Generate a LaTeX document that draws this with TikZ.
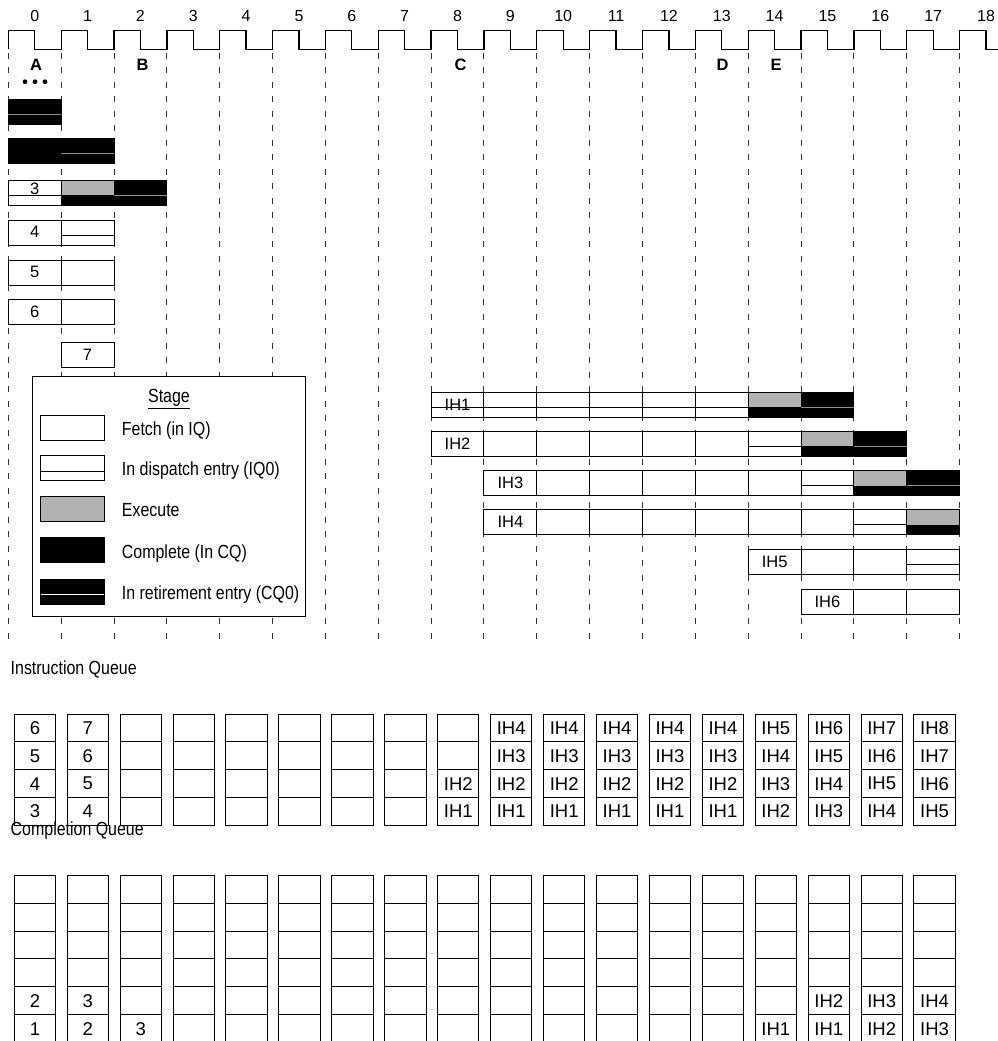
\documentclass[tikz,border=0pt]{standalone}
\usepackage{fontspec}
\setmainfont{Liberation Sans}
\newfontfamily\narrowfont{Liberation Sans}[FakeStretch=0.84]
\newcommand\kx[1]{8.3+52.85*(#1)}
\newcommand\cellF[2]{\draw[cellbox] ({\kx{#1}},#2) rectangle ({\kx{#1+1}},{#2+25});}
\newcommand\cellD[2]{\cellF{#1}{#2}\draw[cellbox] ({\kx{#1}},{#2+15}) -- ({\kx{#1+1}},{#2+15});}
\newcommand\cellX[2]{\fill[execgray] ({\kx{#1}},#2) rectangle ({\kx{#1+1}},{#2+15});
  \fill[black] ({\kx{#1}},{#2+15}) rectangle ({\kx{#1+1}},{#2+25});
  \draw[cellbox,fill=none] ({\kx{#1}},#2) rectangle ({\kx{#1+1}},{#2+25});}
\newcommand\cellC[2]{\filldraw[cellbox,fill=black] ({\kx{#1}},#2) rectangle ({\kx{#1+1}},{#2+25});}
\newcommand\cellR[2]{\cellC{#1}{#2}\draw[retline] ({\kx{#1}},{#2+15}) -- ({\kx{#1+1}},{#2+15});}
\colorlet{execgray}{black!30}
\begin{document}
\begin{tikzpicture}[x=1pt,y=-1pt,
  cellbox/.style={draw=black,fill=white,line width=1pt},
  retline/.style={draw=black!45,line width=1pt},
  gridline/.style={draw=black!80,line width=1pt,dash pattern=on 6pt off 8.5pt},
  clockline/.style={draw=black,line width=1.3pt},
  clocknum/.style={font=\fontsize{16}{18}\selectfont,inner sep=0pt},
  marker/.style={font=\bfseries\fontsize{16.5}{18}\selectfont,inner sep=0pt},
  barlabel/.style={font=\fontsize{16.5}{18}\selectfont,inner sep=0pt},
  legtext/.style={font=\narrowfont\fontsize{19}{22}\selectfont,inner sep=0pt,anchor=base west},
  qtitle/.style={font=\narrowfont\fontsize{19}{22}\selectfont,inner sep=0pt,anchor=base west},
  qbox/.style={draw=black,line width=1pt},
  qtext/.style={font=\fontsize{18.5}{20}\selectfont,inner sep=0pt}]
\useasboundingbox (0,0) rectangle (998,1041);
\fill[white] (0,0) rectangle (998,1041);

% clock
\draw[clockline] (8.3,49.3) -- (8.3,30.7)
  \foreach \k in {0,...,17}{ -- ({\kx{\k}+26.4},30.7) -- ({\kx{\k}+26.4},49.3) -- ({\kx{\k+1}},49.3) -- ({\kx{\k+1}},30.7)}
  -- ({\kx{18}+26.4},30.7) -- ({\kx{18}+26.4},49.3) -- (998,49.3);
\foreach \k in {0,...,18}{\node[clocknum] (clk\k) at ({\kx{\k}+26.4},15.8) {\k};}

% dashed cycle lines
\foreach \k in {0,...,18}{\draw[gridline] ({\kx{\k}},52.7) -- ({\kx{\k}},640);}

% markers
\node[marker] (mA) at (36,65) {A};
\node[marker] (mB) at (142.5,65) {B};
\node[marker] (mC) at (460.5,65) {C};
\node[marker] (mD) at (722.5,65) {D};
\node[marker] (mE) at (776,65) {E};
\foreach \x in {25,35,45}{\fill[black] (\x,81.7) circle (2.4);}

% left bars
\cellR{0}{99}
\cellC{0}{138}\cellR{1}{138}
\cellD{0}{180}\cellX{1}{180}\cellR{2}{180}
\cellF{0}{220.5}\cellD{1}{220.5}
\cellF{0}{260}\cellF{1}{260}
\cellF{0}{299.5}\cellF{1}{299.5}
\cellF{1}{342.5}
\node[barlabel] (l3) at ({\kx{0}+26.4},188.5) {3};
\node[barlabel] (l4) at ({\kx{0}+26.4},231.5) {4};
\node[barlabel] (l5) at ({\kx{0}+26.4},272) {5};
\node[barlabel] (l6) at ({\kx{0}+26.4},311.5) {6};
\node[barlabel] (l7) at ({\kx{1}+26.4},354.5) {7};

% right bars
\foreach \k in {8,...,13}{\cellD{\k}{392}}
\cellX{14}{392}\cellR{15}{392}
\foreach \k in {8,...,13}{\cellF{\k}{431}}
\cellD{14}{431}\cellX{15}{431}\cellR{16}{431}
\foreach \k in {9,...,14}{\cellF{\k}{470.5}}
\cellD{15}{470.5}\cellX{16}{470.5}\cellR{17}{470.5}
\foreach \k in {9,...,15}{\cellF{\k}{509.5}}
\cellD{16}{509.5}\cellX{17}{509.5}
\foreach \k in {14,...,16}{\cellF{\k}{549.5}}
\cellD{17}{549.5}
\foreach \k in {15,...,17}{\cellF{\k}{589.5}}
\node[barlabel] (ih1) at ({\kx{8}+26.4},404.5) {IH1};
\node[barlabel] (ih2) at ({\kx{8}+26.4},443.5) {IH2};
\node[barlabel] (ih3) at ({\kx{9}+26.4},483) {IH3};
\node[barlabel] (ih4) at ({\kx{9}+26.4},522) {IH4};
\node[barlabel] (ih5) at ({\kx{14}+26.4},562) {IH5};
\node[barlabel] (ih6) at ({\kx{15}+26.4},602) {IH6};

% legend
\draw[fill=white,draw=black,line width=1.3pt] (32.3,376.7) rectangle (305.7,616.7);
\node[legtext,anchor=base] (stage) at (169,402.7) {\underline{Stage}};
\draw[cellbox] (40.7,415) rectangle (104.3,440);
\draw[cellbox] (40.7,455.5) rectangle (104.3,480.5);
\draw[cellbox] (40.7,471) -- (104.3,471);
\filldraw[cellbox,fill=execgray] (40.7,496.5) rectangle (104.3,521.5);
\filldraw[cellbox,fill=black] (40.7,537.7) rectangle (104.3,562.7);
\filldraw[cellbox,fill=black] (40.7,579) rectangle (104.3,604);
\draw[white,line width=1pt] (40.7,594.3) -- (104.3,594.3);
\node[legtext] (lgF) at (121.7,435.3) {Fetch (in IQ)};
\node[legtext] (lgD) at (121.7,475.8) {In dispatch entry (IQ0)};
\node[legtext] (lgX) at (121.7,516.8) {Execute};
\node[legtext] (lgC) at (121.7,558) {Complete (In CQ)};
\node[legtext] (lgR) at (121.7,599.3) {In retirement entry (CQ0)};

% instruction queue
\node[qtitle] (iqtitle) at (10.5,674) {Instruction Queue};
\foreach \c in {0,...,17}{\foreach \r in {0,...,3}{
  \draw[qbox] ({14.3+52.92*\c},{714+27.75*\r}) rectangle ++(41.3,27.75);}}
\foreach \c/\r/\t in {0/0/6,0/1/5,0/2/4,0/3/3,1/0/7,1/1/6,1/2/5,1/3/4,
  8/2/IH2,8/3/IH1,
  9/0/IH4,9/1/IH3,9/2/IH2,9/3/IH1,
  10/0/IH4,10/1/IH3,10/2/IH2,10/3/IH1,
  11/0/IH4,11/1/IH3,11/2/IH2,11/3/IH1,
  12/0/IH4,12/1/IH3,12/2/IH2,12/3/IH1,
  13/0/IH4,13/1/IH3,13/2/IH2,13/3/IH1,
  14/0/IH5,14/1/IH4,14/2/IH3,14/3/IH2,
  15/0/IH6,15/1/IH5,15/2/IH4,15/3/IH3,
  16/0/IH7,16/1/IH6,16/2/IH5,16/3/IH4,
  17/0/IH8,17/1/IH7,17/2/IH6,17/3/IH5}{
  \node[qtext] (iq-\c-\r) at ({14.3+52.92*\c+20.65},{714+27.75*\r+14.2}) {\t};}

% completion queue
\foreach \c in {0,...,17}{\foreach \r in {0,...,5}{
  \draw[qbox] ({14.3+52.92*\c},{875.7+27.75*\r}) rectangle ++(41.3,27.75);}}
\foreach \c/\r/\t in {0/4/2,0/5/1,1/4/3,1/5/2,2/5/3,
  14/5/IH1,15/4/IH2,15/5/IH1,16/4/IH3,16/5/IH2,17/4/IH4,17/5/IH3}{
  \node[qtext] (cq-\c-\r) at ({14.3+52.92*\c+20.65},{875.7+27.75*\r+14.2}) {\t};}
\node[qtitle] (cqtitle) at (10.5,835.7) {Completion Queue};
\end{tikzpicture}
\end{document}
